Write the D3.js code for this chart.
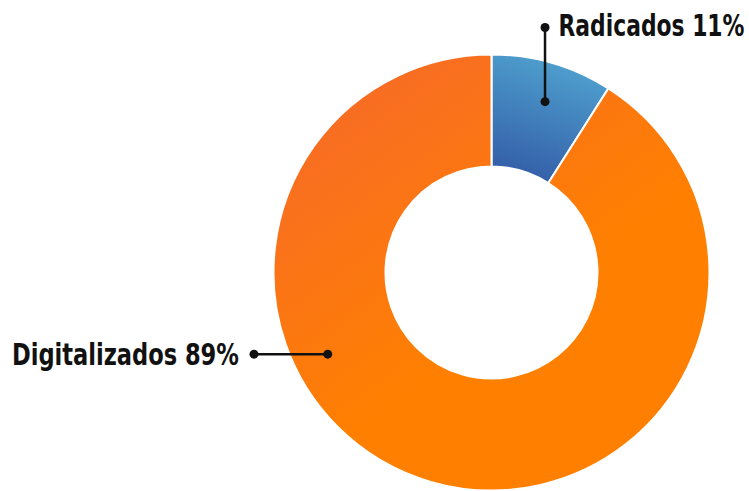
<!DOCTYPE html>
<html>
<head>
<meta charset="utf-8">
<script src="https://cdn.jsdelivr.net/npm/d3@7"></script>
<style>
  html, body { margin: 0; padding: 0; background: #fff; }
  svg { display: block; }
  .label { font-family: "DejaVu Sans Condensed", "Liberation Sans Narrow", sans-serif; font-weight: bold; font-size: 30px; fill: #111; }
</style>
</head>
<body>
<div id="chart"></div>
<script>
// slice names, shares as drawn, printed percentages
var categories = ["Radicados", "Digitalizados"];
var shares = [9, 91];
var percentLabels = ["11%", "89%"];

var width = 749, height = 491;
var cx = 491.5, cy = 272.5;
var outerR = 218, innerR = 106;

var svg = d3.select("#chart").append("svg")
  .attr("width", width)
  .attr("height", height);

var defs = svg.append("defs");

// gradients for the two slices (coordinates relative to the donut center)
var blueGrad = defs.append("linearGradient")
  .attr("id", "grad-blue")
  .attr("gradientUnits", "userSpaceOnUse")
  .attr("x1", 80).attr("y1", -215)
  .attr("x2", 40).attr("y2", -95);
blueGrad.append("stop").attr("offset", "0%").attr("stop-color", "#50a3d0");
blueGrad.append("stop").attr("offset", "100%").attr("stop-color", "#3460a9");

var orangeGrad = defs.append("linearGradient")
  .attr("id", "grad-orange")
  .attr("gradientUnits", "userSpaceOnUse")
  .attr("x1", -180).attr("y1", -200)
  .attr("x2", 10).attr("y2", 60);
orangeGrad.append("stop").attr("offset", "0%").attr("stop-color", "#f76a29");
orangeGrad.append("stop").attr("offset", "100%").attr("stop-color", "#ff8000");

var fills = ["url(#grad-blue)", "url(#grad-orange)"];

var pie = d3.pie().sort(null).value(function (d) { return d; });
var arc = d3.arc().innerRadius(innerR).outerRadius(outerR);

var g = svg.append("g")
  .attr("transform", "translate(" + cx + "," + cy + ")");

g.selectAll("path.slice")
  .data(pie(shares))
  .enter().append("path")
  .attr("class", "slice")
  .attr("d", arc)
  .attr("fill", function (d, i) { return fills[i]; })
  .attr("stroke", "#fff")
  .attr("stroke-width", 2);

// callouts: anchor inside slice (angle in degrees, radius)
var anchors = [
  { angle: 17.4, r: 179 },
  { angle: 243.5, r: 183 }
];

function anchorPoint(i) {
  return d3.pointRadial(anchors[i].angle * Math.PI / 180, anchors[i].r);
}

// place a label and squeeze it horizontally to the width it has in the reference
function addLabel(txt, x, y, w) {
  var t = g.append("text")
    .attr("class", "label")
    .text(txt);
  var len = t.node().getComputedTextLength();
  var sx = len > w ? w / len : 1;
  t.attr("transform", "translate(" + x + "," + y + ") scale(" + sx + ",1)");
  return t;
}

// Radicados: vertical leader up to the label
var p0 = anchorPoint(0);
var top0 = [p0[0], 27.5 - cy];
g.append("line")
  .attr("x1", p0[0]).attr("y1", p0[1])
  .attr("x2", top0[0]).attr("y2", top0[1])
  .attr("stroke", "#111").attr("stroke-width", 2.5);
[p0, top0].forEach(function (p) {
  g.append("circle").attr("cx", p[0]).attr("cy", p[1]).attr("r", 4.5).attr("fill", "#111");
});
addLabel(categories[0] + " " + percentLabels[0], top0[0] + 13.5, 36 - cy, 186);

// Digitalizados: horizontal leader left to the label
var p1 = anchorPoint(1);
var left1 = [254 - cx, p1[1]];
g.append("line")
  .attr("x1", p1[0]).attr("y1", p1[1])
  .attr("x2", left1[0]).attr("y2", left1[1])
  .attr("stroke", "#111").attr("stroke-width", 2.5);
[p1, left1].forEach(function (p) {
  g.append("circle").attr("cx", p[0]).attr("cy", p[1]).attr("r", 4.5).attr("fill", "#111");
});
addLabel(categories[1] + " " + percentLabels[1], 12 - cx, 364.5 - cy, 227);
</script>
</body>
</html>
